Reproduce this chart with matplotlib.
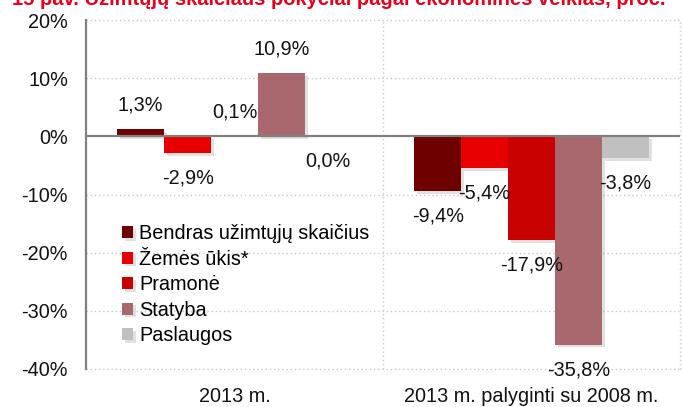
import matplotlib

matplotlib.use('Agg')

import numpy as np
import matplotlib.pyplot as plt
from matplotlib import patheffects as pe

plt.rcParams['font.family'] = ['Liberation Sans', 'DejaVu Sans']

# duomenys
groups = ['2013 m.', '2013 m. palyginti su 2008 m.']
series = ['Bendras užimtųjų skaičius', 'Žemės ūkis*', 'Pramonė', 'Statyba', 'Paslaugos']
values = [
    [1.3, -9.4],
    [-2.9, -5.4],
    [0.1, -17.9],
    [10.9, -35.8],
    [0.0, -3.8],
]
colors = ['#6e0000', '#e80000', '#c80000', '#a8686e', '#c0c0c0']
yticks = [20, 10, 0, -10, -20, -30, -40]
title = '15 pav. Užimtųjų skaičiaus pokyčiai pagal ekonomines veiklas, proc.'

fs = 14.3

fig = plt.figure(figsize=(6.83, 4.07), dpi=100)
ax = fig.add_axes([86/683, 1-369/407, 594/683, 349/407])

x = np.arange(len(groups))
w = 0.158
shadow = [pe.SimplePatchShadow(offset=(2, -2), shadow_rgbFace='#888888', alpha=0.25), pe.Normal()]

for i, (name, vals, c) in enumerate(zip(series, values, colors)):
    xs = x + (i - 2) * w
    bars = ax.bar(xs, vals, width=w, color=c, label=name, zorder=3)
    for b in bars:
        b.set_path_effects(shadow)
    for xx, v in zip(xs, vals):
        off = 17 if v > 0 else -18
        lab = ('%.1f%%' % v).replace('.', ',')
        ax.annotate(lab, (xx, v), xytext=(0, off), textcoords='offset points',
                    ha='center', va='center', fontsize=fs, color='#111111', zorder=5)

ax.set_xlim(-0.5, 1.5)
ax.set_ylim(-40, 20)
ax.set_yticks(yticks)
ax.set_yticklabels(['%d%%' % t for t in yticks])
ax.set_xticks(x)
ax.set_xticklabels(groups)
ax.tick_params(length=0, labelsize=fs, colors='#111111')
ax.tick_params(axis='y', pad=13)
ax.tick_params(axis='x', pad=13)

for t in yticks:
    if t != 0:
        ax.axhline(t, color='#c8c8c8', lw=1, ls=(0, (1, 2)), zorder=1, clip_on=False)
for xv in [0.5, 1.5]:
    ax.axvline(xv, color='#c8c8c8', lw=1, ls=(0, (1, 2)), zorder=1, clip_on=False)
ax.axhline(0, color='#808080', lw=1.6, zorder=4)

for s in ['top', 'right', 'bottom']:
    ax.spines[s].set_visible(False)
ax.spines['left'].set_color('#808080')
ax.spines['left'].set_linewidth(1.6)

leg = ax.legend(loc='upper left', bbox_to_anchor=(122/683, 1-224/407), bbox_transform=fig.transFigure,
                frameon=False, fontsize=fs, handlelength=0.55, handleheight=0.55,
                handletextpad=0.3, labelspacing=0.33, borderpad=0, borderaxespad=0)

# titulas nukirptas virsuje, kaip originale
fig.text(12/683, 1-5/407, title, color='#e8001c', fontsize=14.5, fontweight='bold',
         ha='left', va='baseline')

plt.savefig('out.png', dpi=100)
